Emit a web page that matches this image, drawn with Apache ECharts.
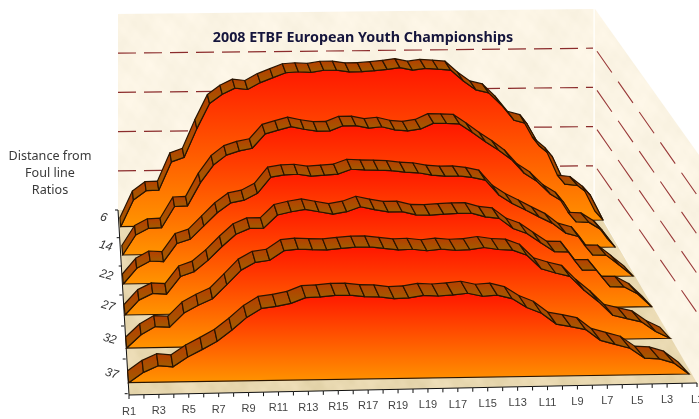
<!DOCTYPE html>
<html>
<head>
<meta charset="utf-8">
<style>
html,body{margin:0;padding:0;background:#fff;}
#main{width:699px;height:419px;}
</style>
<script src="https://cdn.jsdelivr.net/npm/echarts@6/dist/echarts.min.js"></script>
</head>
<body>
<div id="main"></div>
<script>
var categories = ['R1','R2','R3','R4','R5','R6','R7','R8','R9','R10','R11','R12','R13','R14','R15','R16','R17','R18','R19','R20',
	'L19','L18','L17','L16','L15','L14','L13','L12','L11','L10','L9','L8','L7','L6','L5','L4','L3','L2','L1'];
var depthLabels = ['6','14','22','27','32','37'];
var wallTicks = [1,2,3,4];

// 从图上读出来的比值，每一层一个数组
var ratio6 = [0,.67,.90,.91,1.62,1.73,2.45,3.08,3.31,3.46,3.42,3.59,3.71,3.83,3.85,3.83,3.88,3.88,3.83,3.83,3.85,3.88,3.92,3.85,3.89,3.87,3.84,3.56,3.33,3.25,2.94,2.55,2.46,1.89,1.62,.92,.88,.63,0];
var ratio14 = [0,.49,.65,.66,1.18,1.19,1.76,2.19,2.43,2.53,2.59,2.94,3.03,3.11,3.04,2.99,2.99,3.11,3.11,3.04,3.07,2.99,2.96,3.00,3.14,3.13,3.11,2.89,2.66,2.45,2.21,1.86,1.65,1.34,1.14,.64,.62,.42,0];
var ratio22 = [0,.37,.54,.52,.95,1.05,1.36,1.67,1.90,1.96,2.12,2.50,2.55,2.56,2.51,2.53,2.55,2.66,2.64,2.63,2.61,2.57,2.55,2.49,2.46,2.46,2.42,2.35,1.99,1.78,1.62,1.45,1.29,1.05,.96,.52,.51,.26,0];
var ratio27 = [0,.34,.49,.47,.87,.98,1.24,1.55,1.83,1.96,1.96,2.26,2.33,2.38,2.32,2.26,2.31,2.42,2.35,2.29,2.29,2.21,2.20,2.22,2.23,2.23,2.14,2.10,1.86,1.74,1.52,1.31,1.30,.87,.87,.48,.47,.30,0];
var ratio32 = [0,.29,.47,.45,.76,.93,1.07,1.38,1.70,1.87,1.91,2.12,2.15,2.13,2.12,2.15,2.17,2.17,2.13,2.09,2.10,2.06,2.09,2.06,2.07,2.11,2.06,2.04,1.92,1.61,1.51,1.43,1.11,.85,.54,.46,.38,.16,0];
var ratio37 = [0,.22,.36,.33,.54,.70,.87,1.11,1.38,1.57,1.61,1.67,1.79,1.80,1.83,1.83,1.79,1.78,1.74,1.75,1.80,1.78,1.80,1.83,1.76,1.78,1.70,1.50,1.37,1.13,1.07,1.00,.76,.67,.58,.36,.34,.24,0];
var layerValues = [ratio6,ratio14,ratio22,ratio27,ratio32,ratio37];

// 每一层的底边位置（透视：越靠前越宽）
var layerBox = [
	{x0:120.7,x1:603,y0:226.7,y1:220,unit:39.6,rib:9},
	{x0:122.7,x1:615,y0:255,y1:247,unit:40.4,rib:9.5},
	{x0:123.3,x1:633,y0:284,y1:276,unit:41.8,rib:10},
	{x0:125,x1:651.7,y0:315,y1:306.7,unit:43.2,rib:10.5},
	{x0:126.7,x1:670,y0:348,y1:338.3,unit:44.6,rib:11},
	{x0:128.7,x1:689,y0:382.7,y1:374,unit:46,rib:12}
];
var AXIS_MAX = 5;
var LAST = categories.length-1;

var grids = [],xAxes = [],yAxes = [],series = [];

function addGrid(left,width,top,height){
	grids.push({left:left,width:width,top:top,height:height});
	var idx = grids.length-1;
	xAxes.push({type:'category',gridIndex:idx,data:categories,boundaryGap:false,show:false});
	yAxes.push({type:'value',gridIndex:idx,min:0,max:AXIS_MAX,show:false});
	return idx;
}
function grad(top,bottom){
	return new echarts.graphic.LinearGradient(0,0,0,1,[{offset:0,color:top},{offset:1,color:bottom}]);
}
function pts(a){ return {points:a}; }

// 羊皮纸的底纹，用几个正弦叠出来
function makeTexture(r,g,b,amp){
	var size = 256;
	var cv = document.createElement('canvas');
	cv.width = cv.height = size;
	var ctx = cv.getContext('2d');
	var img = ctx.createImageData(size,size);
	var w = 2*Math.PI/size;
	for(var y=0;y<size;y++){
		for(var x=0;x<size;x++){
			var n = Math.sin(w*(3*x+2*y))+Math.sin(w*(7*x-4*y)+1.3)*.7+Math.sin(w*(-5*x+11*y)+2.1)*.6
				+Math.sin(w*(17*x+9*y)+.4)*.4+Math.sin(w*(23*x-19*y)+3)*.3;
			var d = n*amp/3;
			var o = (y*size+x)*4;
			img.data[o] = r+d;
			img.data[o+1] = g+d;
			img.data[o+2] = b+d*1.4;
			img.data[o+3] = 255;
		}
	}
	ctx.putImageData(img,0,0);
	return cv;
}
var wallFill = {image:makeTexture(251,244,228,4),repeat:'repeat'};
var floorFill = {image:makeTexture(232,216,176,8),repeat:'repeat'};

// 背景：后墙、侧墙、地板和网格线
function renderWall(params,api){
	if(params.dataIndex!==0) return;
	var tilt = 5/LAST;
	function p(i,v){ var c = api.coord([i,v]); return [c[0],c[1]-tilt*i]; }
	var bl = p(0,0), br = p(LAST,0), tl = p(0,AXIS_MAX), tr = p(LAST,AXIS_MAX);
	var kids = [];
	kids.push({type:'polygon',shape:pts([tl,tr,br,bl]),style:{fill:wallFill}});
	kids.push({type:'polygon',shape:pts([[tr[0]+1,tr[1]],[699,tr[1]+146],[699,388],[br[0]+1,br[1]]]),style:{fill:wallFill}});
	kids.push({type:'polygon',shape:pts([bl,br,[697,383],[129,395]]),style:{fill:floorFill}});
	kids.push({type:'polyline',shape:pts([tr,[br[0],br[1]]]),style:{stroke:'#fffdf6',lineWidth:1.5,fill:null}});
	wallTicks.forEach(function(v){
		var a = p(0,v), b = p(LAST,v);
		kids.push({type:'polyline',shape:pts([a,[b[0]-1,b[1]]]),style:{stroke:'#8b2c2c',lineWidth:1.2,lineDash:[18,8],fill:null}});
		kids.push({type:'polyline',shape:pts([[b[0]+3,b[1]+3],[b[0]+108,b[1]+154]]),style:{stroke:'#9a3a3a',lineWidth:1.1,lineDash:[26,11],fill:null}});
	});
	// 纵深轴
	kids.push({type:'polyline',shape:pts([[118,bl[1]],[129,395]]),style:{stroke:'#111',lineWidth:1,fill:null}});
	kids.push({type:'polyline',shape:pts([[118,bl[1]],[115,bl[1]]]),style:{stroke:'#111',lineWidth:1,fill:null}});
	return {type:'group',children:kids};
}

function makeLayerRender(box,values,label){
	var tilt = (box.y0-box.y1)/LAST;
	return function(params,api){
		if(params.dataIndex!==0) return;
		function p(i,v){ var c = api.coord([i,v]); return [c[0],c[1]-tilt*i]; }
		var kids = [], front = [];
		for(var i=0;i<=LAST;i++) front.push(p(i,values[i]));
		var outline = front.concat([p(LAST,0),p(0,0)]);
		kids.push({type:'polygon',shape:pts(outline),style:{fill:grad('#ff1600','#ff9500'),stroke:'#2a1400',lineWidth:1.2}});
		// 顶面的带子，一段一段画
		function back(pt,i){
			var t = i/LAST;
			return [pt[0]-(1+9*t)*box.rib/11,pt[1]-box.rib];
		}
		for(var j=0;j<LAST;j++){
			var a = front[j], b = front[j+1];
			kids.push({type:'polygon',shape:pts([a,b,back(b,j+1),back(a,j)]),
				style:{fill:grad('#b83c00','#a05e00'),stroke:'#2a1400',lineWidth:1.2,lineJoin:'round'}});
		}
		var base = p(0,0);
		kids.push({type:'polyline',shape:pts([[base[0]-1,base[1]+11],[base[0]-4,base[1]+11]]),style:{stroke:'#111',lineWidth:1,fill:null}});
		kids.push({type:'text',x:base[0]-17,y:base[1]-9,rotation:-15*Math.PI/180,
			style:{text:label,fill:'#333',font:'italic 12px "Liberation Sans"',align:'center',verticalAlign:'middle'}});
		return {type:'group',children:kids};
	};
}

// 底部 x 轴，随地板前沿略微倾斜
function renderAxis(params,api){
	var i = params.dataIndex;
	var c = api.coord([i,0]);
	var y = c[1]-i*12/LAST;
	var kids = [{type:'polyline',shape:pts([[c[0],y],[c[0],y+4]]),style:{stroke:'#111',lineWidth:1,fill:null}}];
	if(i<LAST){
		var n = api.coord([i+1,0]);
		kids.push({type:'polyline',shape:pts([[c[0],y],[n[0],y-12/LAST]]),style:{stroke:'#111',lineWidth:1,fill:null}});
	}
	if(i%2===0){
		kids.push({type:'text',x:c[0],y:y+16.5,style:{text:categories[i],fill:'#444',font:'11px "Liberation Sans"',align:'center',verticalAlign:'middle'}});
	}
	return {type:'group',children:kids};
}

var wallGrid = addGrid(118,476,210-196,196);
series.push({type:'custom',xAxisIndex:wallGrid,yAxisIndex:wallGrid,coordinateSystem:'cartesian2d',z:1,silent:true,
	data:[[0,0]],encode:{x:0,y:1},renderItem:renderWall});

var axisGrid = addGrid(129,568,395-50,50);
series.push({type:'custom',xAxisIndex:axisGrid,yAxisIndex:axisGrid,coordinateSystem:'cartesian2d',z:2,silent:true,
	data:categories.map(function(c,i){return [i,0];}),encode:{x:0,y:1},renderItem:renderAxis});

layerBox.forEach(function(box,k){
	var h = box.unit*AXIS_MAX;
	var g = addGrid(box.x0,box.x1-box.x0,box.y0-h,h);
	series.push({type:'custom',name:depthLabels[k],xAxisIndex:g,yAxisIndex:g,coordinateSystem:'cartesian2d',z:3+k,silent:true,
		data:layerValues[k].map(function(v,i){return [i,v];}),encode:{x:0,y:1},
		renderItem:makeLayerRender(box,layerValues[k],depthLabels[k])});
});

var myChart = echarts.init(document.getElementById('main'));
myChart.setOption({
	animation:false,
	backgroundColor:'#fff',
	title:[
		{text:'2008 ETBF European Youth Championships',left:358,top:26,textAlign:'center',
			textStyle:{fontFamily:'Noto Sans',fontSize:14.3,fontWeight:'bold',color:'#15153c'}},
		{text:'Distance from\nFoul line\nRatios',left:45,top:143,textAlign:'center',
			textStyle:{fontFamily:'Noto Sans',fontSize:12.6,fontWeight:'normal',color:'#3a3a3a',lineHeight:17}}
	],
	grid:grids,
	xAxis:xAxes,
	yAxis:yAxes,
	series:series
});
</script>
</body>
</html>
